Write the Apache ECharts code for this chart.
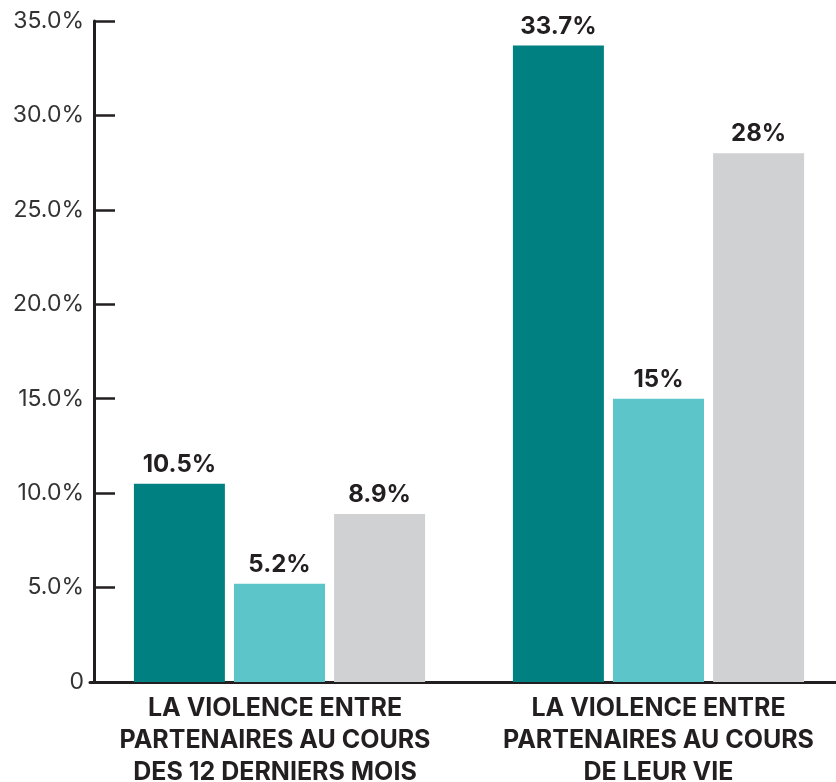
<!DOCTYPE html>
<html>
<head>
<meta charset="utf-8">
<script src="https://cdn.jsdelivr.net/npm/echarts@6/dist/echarts.min.js"></script>
<style>
  html, body { margin: 0; padding: 0; background: #ffffff; }
  #chart { width: 836px; height: 782px; }
</style>
</head>
<body>
<div id="chart"></div>
<script>
// Period categories shown along the horizontal axis
const categories = [
  'LA VIOLENCE ENTRE\nPARTENAIRES AU COURS\nDES 12 DERNIERS MOIS',
  'LA VIOLENCE ENTRE\nPARTENAIRES AU COURS\nDE LEUR VIE'
];
// Prevalence (%) for each of the three groups
const seriesA = [10.5, 33.7];
const seriesB = [5.2, 15];
const seriesC = [8.9, 28];
const seriesColors = ['#008080', '#5cc5ca', '#d0d1d3'];

const ink = '#231f20';
const baseFont = 'Inter, "Open Sans", sans-serif';

function barSeries(data, color) {
  return {
    type: 'bar',
    data: data,
    barWidth: 91,
    barGap: '10%',
    itemStyle: { color: color },
    label: {
      show: true,
      position: 'top',
      distance: 7,
      formatter: p => p.value + '%',
      color: ink,
      fontFamily: baseFont,
      fontWeight: 'bold',
      fontSize: 24
    }
  };
}

// first category caption sits slightly left of its bar group
const categoryItems = categories.map((name, i) => (
  i === 0 ? { value: name, textStyle: { padding: [0, 9, 0, 0] } } : name
));

const chart = echarts.init(document.getElementById('chart'), null, { renderer: 'canvas' });
chart.setOption({
  animation: false,
  backgroundColor: '#ffffff',
  grid: {
    left: 90, width: 758, top: 21, bottom: 100,
    containLabel: false,
    outerBoundsMode: 'none'
  },
  xAxis: {
    type: 'category',
    data: categoryItems,
    axisLine: { lineStyle: { color: ink, width: 3 } },
    axisTick: { show: false },
    axisLabel: {
      interval: 0,
      margin: 10,
      color: ink,
      fontFamily: baseFont,
      fontWeight: 'bold',
      fontSize: 25,
      lineHeight: 32
    }
  },
  yAxis: {
    type: 'value',
    min: 0,
    max: 35,
    interval: 5,
    offset: -4,
    splitLine: { show: false },
    axisLine: { show: true, lineStyle: { color: ink, width: 3 } },
    axisTick: { show: true, inside: true, length: 21, lineStyle: { color: ink, width: 2.5 } },
    axisLabel: {
      margin: 10,
      color: '#333333',
      fontFamily: baseFont,
      fontSize: 23,
      formatter: v => v === 0 ? '0' : v.toFixed(1) + '%'
    }
  },
  series: [
    barSeries(seriesA, seriesColors[0]),
    barSeries(seriesB, seriesColors[1]),
    barSeries(seriesC, seriesColors[2])
  ]
});
</script>
</body>
</html>
